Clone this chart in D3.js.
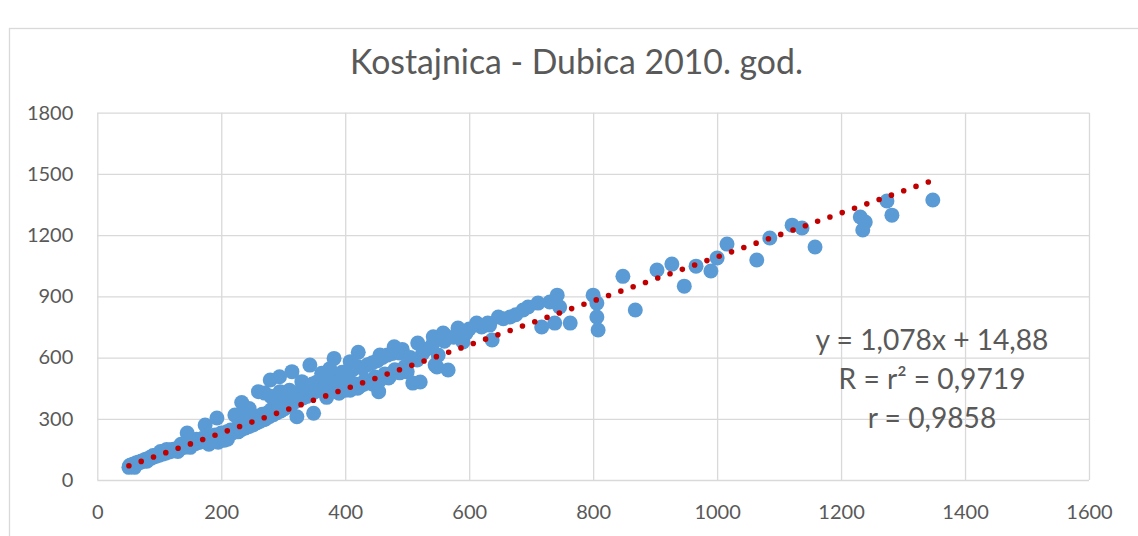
<!DOCTYPE html>
<html>
<head>
<meta charset="utf-8">
<script src="https://cdn.jsdelivr.net/npm/d3@7"></script>
<style>
  html, body { margin: 0; padding: 0; background: #fff; }
  svg { display: block; }
  text { font-family: Lato, "Open Sans", "Liberation Sans", sans-serif; fill: #595959; }
</style>
</head>
<body>
<svg id="chart" width="1138" height="536"></svg>
<script>
// Daily discharge pairs, Kostajnica (x) against Dubica (y)
const flowKostajnica = [
  51,52,53,54,56,57,59,60,62,63,
  65,67,69,71,73,75,77,79,81,83,
  85,87,89,91,93,95,98,100,103,105,
  108,110,113,116,119,122,125,128,131,134,
  137,140,143,146,149,152,155,158,161,164,
  167,170,173,176,179,182,186,190,194,198,
  60,70,80,90,100,110,120,130,140,150,160,170,180,190,200,
  145,174,193,102,112,135,160,150,195,205,210,180,
  200,203,206,209,212,215,218,221,224,227,
  230,233,236,239,242,245,248,251,254,257,
  260,263,266,269,
  222,233,260,270,238,245,230,
  272,275,278,281,284,287,290,293,296,299,
  302,305,308,311,314,317,320,323,326,329,
  279,294,314,330,295,280,310,362,
  332,335,338,341,344,347,350,353,356,359,
  362,365,368,371,374,377,380,383,386,389,
  392,395,398,349,322,343,375,382,
  401,405,408,412,416,420,424,428,432,436,
  440,444,448,452,456,460,464,468,472,476,
  480,484,488,492,496,
  421,456,479,488,454,400,430,408,
  370,390,420,445,470,500,
  509,521,516,545,566,550,517,542,558,561,
  582,590,530,540,560,575,595,505,525,548,
  612,630,637,647,666,687,695,711,730,742,
  746,717,738,763,800,806,806,808,848,868,
  633,600,620,655,675,
  903,927,947,966,990,1000,1016,1064,1085,1121,
  1137,1158,1231,1239,1235,1274,1282,1348
];
const flowDubica = [
  62,70,66,74,70,76,74,80,78,84,
  83,88,86,92,94,92,100,98,104,102,
  110,107,115,113,119,117,124,121,130,127,
  135,131,140,137,145,142,152,148,158,154,
  164,160,170,166,176,172,182,178,188,184,
  194,190,200,196,206,200,212,206,218,212,
  62,88,92,120,130,142,150,140,168,160,190,205,190,220,230,
  230,269,304,140,150,175,200,190,185,195,200,175,
  215,228,208,236,222,245,230,240,252,236,
  262,248,270,255,278,262,290,270,300,280,
  312,288,322,296,
  318,380,433,426,330,350,300,
  300,330,312,345,320,356,330,368,338,380,
  350,392,360,404,372,416,385,428,395,440,
  490,506,531,482,433,410,440,523,
  402,452,410,462,420,470,430,478,440,488,
  448,496,456,505,466,512,474,520,482,500,
  490,528,470,327,310,563,545,596,
  450,524,440,540,470,556,460,548,490,565,
  475,575,505,585,490,600,520,612,510,620,
  540,632,525,640,555,
  626,612,653,622,433,440,470,580,
  405,425,450,470,500,530,
  475,480,588,563,539,612,671,702,720,710,
  745,676,640,660,680,700,720,600,620,554,
  769,769,686,799,799,833,848,867,872,906,
  848,750,769,769,906,867,799,735,998,833,
  759,740,750,790,810,
  1029,1058,950,1048,1024,1088,1156,1078,1186,1249,
  1235,1142,1289,1264,1225,1367,1298,1372
];

const xTicks = [0, 200, 400, 600, 800, 1000, 1200, 1400, 1600];
const yTicks = [0, 300, 600, 900, 1200, 1500, 1800];

// Linear trend: y = slope * x + intercept
const trendSlope = 1.078;
const trendIntercept = 14.88;
const trendLabel = ["y = 1,078x + 14,88", "R = r² = 0,9719", "r = 0,9858"];

const chartTitle = "Kostajnica - Dubica 2010. god.";

const points = flowKostajnica.map((x, i) => ({ x, y: flowDubica[i] }));

const svg = d3.select("#chart");
const plot = { left: 97.3, right: 1089, top: 112.7, bottom: 480 };

const x = d3.scaleLinear().domain([0, 1600]).range([plot.left, plot.right]);
const y = d3.scaleLinear().domain([0, 1800]).range([plot.bottom, plot.top]);

// Chart frame
svg.append("rect")
  .attr("x", 9.5).attr("y", 28.5)
  .attr("width", 1200).attr("height", 600)
  .attr("fill", "none").attr("stroke", "#d9d9d9").attr("stroke-width", 1.3);

function fitWidth(sel, target) {
  const w = sel.node().getComputedTextLength();
  const fs = parseFloat(sel.attr("font-size"));
  sel.attr("font-size", fs * target / w);
  return fs * target / w;
}

// Title
const titleText = svg.append("text")
  .attr("x", 576.5).attr("y", 74)
  .attr("text-anchor", "middle")
  .attr("font-size", 33)
  .text(chartTitle);
fitWidth(titleText, 453);

// Gridlines with tick labels
const gx = svg.append("g")
  .attr("transform", `translate(0,${plot.bottom})`)
  .call(d3.axisBottom(x).tickValues(xTicks).tickFormat(d3.format("d"))
    .tickSize(-(plot.bottom - plot.top)).tickPadding(25));
const gy = svg.append("g")
  .attr("transform", `translate(${plot.left},0)`)
  .call(d3.axisLeft(y).tickValues(yTicks).tickFormat(d3.format("d"))
    .tickSize(-(plot.right - plot.left)).tickPadding(24));

[gx, gy].forEach(g => {
  g.select(".domain").remove();
  g.selectAll(".tick line").attr("stroke", "#d9d9d9").attr("stroke-width", 1.3);
  g.selectAll(".tick text")
    .attr("fill", "#595959")
    .attr("font-size", 20)
    .style("font-family", "Lato, 'Open Sans', sans-serif");
});

// Observations
svg.append("g")
  .selectAll("circle")
  .data(points)
  .join("circle")
  .attr("cx", d => x(d.x))
  .attr("cy", d => y(d.y))
  .attr("r", 7.5)
  .attr("fill", "#5b9bd5");

// Trend line across the observed range, round-dot style
const [xMin, xMax] = d3.extent(points, d => d.x);
const trend = [xMin, xMax].map(v => ({ x: v, y: trendSlope * v + trendIntercept }));
svg.append("path")
  .datum(trend)
  .attr("d", d3.line().x(d => x(d.x)).y(d => y(d.y)))
  .attr("fill", "none")
  .attr("stroke", "#c00000")
  .attr("stroke-width", 5.6)
  .attr("stroke-linecap", "round")
  .attr("stroke-dasharray", "0 13.05");

// Trend equation and correlation
const eq = svg.append("g").attr("text-anchor", "middle");
const eqLines = trendLabel.map((t, i) =>
  eq.append("text")
    .attr("x", 932)
    .attr("y", 350 + i * 39)
    .attr("font-size", 28)
    .text(t));
const eqSize = fitWidth(eqLines[0], 233);
eqLines.forEach(s => s.attr("font-size", eqSize));
</script>
</body>
</html>
